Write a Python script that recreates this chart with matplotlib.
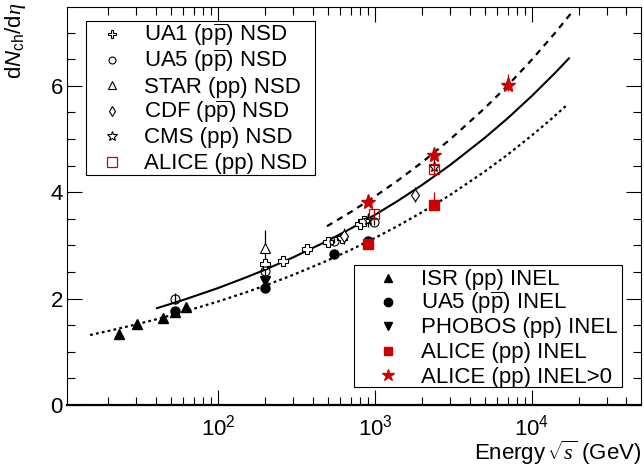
import numpy as np
import matplotlib
matplotlib.use('Agg')
import matplotlib.pyplot as plt
from matplotlib.patches import Rectangle
from matplotlib.ticker import LogLocator, MultipleLocator, NullFormatter, LogFormatterMathtext

plt.rcParams['font.family'] = ['Liberation Sans', 'DejaVu Sans']
plt.rcParams['mathtext.fontset'] = 'custom'
plt.rcParams['mathtext.rm'] = 'Liberation Sans'
plt.rcParams['mathtext.sf'] = 'Liberation Sans:italic'
plt.rcParams['mathtext.it'] = 'Liberation Serif:italic'
plt.rcParams['lines.scale_dashes'] = False

RED = '#cc0000'

# ---------------- data (sqrt(s) in GeV, dNch/deta) ----------------
isr_inel_e = [23.5, 30.6, 44.7, 52.8, 62.8]
isr_inel_y = [1.34, 1.53, 1.64, 1.74, 1.85]

ua5_inel_e = [53, 200, 546, 900]
ua5_inel_y = [1.77, 2.20, 2.84, 3.08]

phobos_inel_e = [200]
phobos_inel_y = [2.33]

alice_inel_e = [900, 2360]
alice_inel_y = [3.03, 3.76]
alice_inel_elo = [0.05, 0.10]
alice_inel_ehi = [0.08, 0.24]

alice_gt0_e = [900, 2360, 7000]
alice_gt0_y = [3.81, 4.70, 6.02]
alice_gt0_elo = [0.05, 0.10, 0.12]
alice_gt0_ehi = [0.08, 0.12, 0.21]

ua1_nsd_e = [200, 260, 370, 500, 620, 800, 850]
ua1_nsd_y = [2.65, 2.70, 2.94, 3.06, 3.13, 3.41, 3.45]
ua1_nsd_err = [0.05, 0.05, 0.05, 0.05, 0.05, 0.05, 0.05]

ua5_nsd_e = [53, 200, 546, 990]
ua5_nsd_y = [2.00, 2.51, 3.09, 3.43]
ua5_nsd_err = [0.10, 0.06, 0.05, 0.05]

star_nsd_e = [200]
star_nsd_y = [2.96]
star_nsd_err = [0.33]

cdf_nsd_e = [630, 1800]
cdf_nsd_y = [3.18, 3.95]
cdf_nsd_err = [0.15, 0.14]

cms_nsd_e = [900, 2360]
cms_nsd_y = [3.48, 4.47]
cms_nsd_err = [0.13, 0.15]

alice_nsd_e = [990, 2360]
alice_nsd_y = [3.59, 4.43]
alice_nsd_err = [0.10, 0.10]

# fit curves
nsd_fit_e = [40.8, 60, 100, 150, 200, 300, 500, 700, 1000, 1400, 2000, 3000, 5000, 7000, 10000, 14000, 17200]
nsd_fit_y = [1.82, 1.974, 2.198, 2.396, 2.545, 2.773, 3.088, 3.315, 3.575, 3.838, 4.138, 4.507,
             5.020, 5.389, 5.811, 6.238, 6.515]
inel_fit_e = [15.3, 20, 30, 40, 60, 100, 150, 200, 300, 500, 700, 1000, 1400, 2000, 3000, 5000,
              7000, 10000, 13000, 16700]
inel_fit_y = [1.316, 1.391, 1.514, 1.607, 1.749, 1.945, 2.116, 2.246, 2.444, 2.718, 2.915, 3.140,
              3.367, 3.626, 3.945, 4.388, 4.706, 5.068, 5.352, 5.638]
gt0_fit_e = [494, 700, 1000, 1400, 2000, 3000, 5000, 7000, 10000, 14000, 17700]
gt0_fit_y = [3.36, 3.626, 3.921, 4.221, 4.564, 4.988, 5.578, 6.004, 6.493, 6.989, 7.358]

nsd_labels = [r'UA1 (p$\overline{\mathrm{p}}$) NSD', r'UA5 (p$\overline{\mathrm{p}}$) NSD',
              'STAR (pp) NSD', r'CDF (p$\overline{\mathrm{p}}$) NSD', 'CMS (pp) NSD', 'ALICE (pp) NSD']
inel_labels = ['ISR (pp) INEL', r'UA5 (p$\overline{\mathrm{p}}$) INEL', 'PHOBOS (pp) INEL',
               'ALICE (pp) INEL', 'ALICE (pp) INEL>0']

# ---------------- figure ----------------
W, H = 644, 467
fig = plt.figure(figsize=(W / 100, H / 100), dpi=100)
AX_L, AX_R, AX_T, AX_B = 67, 641, 7, 405
ax = fig.add_axes([AX_L / W, 1 - AX_B / H, (AX_R - AX_L) / W, (AX_B - AX_T) / H])
ax.set_xscale('log')
ax.set_xlim(10.9, 49500)
ax.set_ylim(0, 7.48)

FS = 16

# curves
ax.plot(nsd_fit_e, nsd_fit_y, color='black', lw=1.5, zorder=2)
l2, = ax.plot(inel_fit_e, inel_fit_y, color='black', lw=1.6, zorder=2)
l2.set_dashes([2.0, 2.3])
l3, = ax.plot(gt0_fit_e, gt0_fit_y, color='black', lw=1.6, zorder=2)
l3.set_dashes([4.5, 4.0])

eb = dict(elinewidth=0.9, capsize=0, linestyle='none', zorder=3)
# NSD (open)
ax.errorbar(ua1_nsd_e, ua1_nsd_y, yerr=ua1_nsd_err, fmt='P', ms=7, mfc='white', mec='black', mew=0.8, ecolor='black', **eb)
ax.errorbar(ua5_nsd_e, ua5_nsd_y, yerr=ua5_nsd_err, fmt='o', ms=6.5, mfc='none', mec='black', mew=0.8, ecolor='black', **eb)
ax.errorbar(star_nsd_e, star_nsd_y, yerr=star_nsd_err, fmt='^', ms=7, mfc='white', mec='black', mew=0.8, ecolor='black', **eb)
ax.errorbar(cdf_nsd_e, cdf_nsd_y, yerr=cdf_nsd_err, fmt='d', ms=6, mfc='white', mec='black', mew=0.8, ecolor='black', **eb)
ax.errorbar(cms_nsd_e, cms_nsd_y, yerr=cms_nsd_err, fmt='*', ms=8, mfc='none', mec='black', mew=0.8, ecolor='black', **eb)
ax.errorbar(alice_nsd_e, alice_nsd_y, yerr=alice_nsd_err, fmt='s', ms=7.5, mfc='none', mec=RED, mew=0.9, ecolor=RED, **eb)
# INEL (filled)
ax.errorbar(isr_inel_e, isr_inel_y, fmt='^', ms=6.5, color='black', **eb)
ax.errorbar(ua5_inel_e, ua5_inel_y, fmt='o', ms=6.5, color='black', **eb)
ax.errorbar(phobos_inel_e, phobos_inel_y, fmt='v', ms=6.5, color='black', **eb)
ax.errorbar(alice_inel_e, alice_inel_y, yerr=[alice_inel_elo, alice_inel_ehi], fmt='s', ms=6.5, color=RED, **eb)
ax.errorbar(alice_gt0_e, alice_gt0_y, yerr=[alice_gt0_elo, alice_gt0_ehi], fmt='*', ms=11, color=RED, **eb)

# ticks
ax.xaxis.set_major_locator(LogLocator(base=10, numticks=10))
ax.xaxis.set_minor_locator(LogLocator(base=10, subs=np.arange(2, 10), numticks=20))
ax.xaxis.set_major_formatter(LogFormatterMathtext())
ax.xaxis.set_minor_formatter(NullFormatter())
ax.yaxis.set_major_locator(MultipleLocator(2))
ax.yaxis.set_minor_locator(MultipleLocator(0.5))
ax.tick_params(which='both', direction='in', top=True, right=True, width=0.8, labelsize=FS)
ax.tick_params(which='major', length=11)
ax.tick_params(which='minor', length=5.5)
ax.tick_params(axis='x', which='major', pad=7)
ax.tick_params(axis='y', which='major', pad=3)
for s in ax.spines.values():
    s.set_linewidth(0.8)
ax.spines['bottom'].set_linewidth(1.6)

ax.set_xlabel(r'Energy$\,\sqrt{\mathit{s}}$ (GeV)', fontsize=FS, loc='right')
ax.xaxis.set_label_coords(1.0, -0.085)
ax.set_ylabel(r'd$\mathsf{N}_{\mathrm{ch}}$/d$\eta$', fontsize=FS, loc='top')
ax.yaxis.set_label_coords(-0.068, 1.01)

# ---------------- legends ----------------
def pa(px, py):
    return ((px - AX_L) / (AX_R - AX_L), (AX_B - py) / (AX_B - AX_T))

def draw_box(x0, y0, x1, y1):
    a0 = pa(x0, y1)
    a1 = pa(x1, y0)
    ax.add_patch(Rectangle(a0, a1[0] - a0[0], a1[1] - a0[1], transform=ax.transAxes,
                           facecolor='white', edgecolor='black', lw=0.8, zorder=5, clip_on=False))

draw_box(86, 21, 315, 175)
nsd_styles = [dict(marker='P', ms=5.5, mfc='white', mec='black', mew=0.8),
              dict(marker='o', ms=5, mfc='none', mec='black', mew=0.8),
              dict(marker='^', ms=5.5, mfc='white', mec='black', mew=0.8),
              dict(marker='d', ms=5, mfc='white', mec='black', mew=0.8),
              dict(marker='*', ms=7, mfc='none', mec='black', mew=0.8),
              dict(marker='s', ms=6.5, mfc='none', mec=RED, mew=0.9)]
rows1 = [34, 59.5, 85, 110.5, 136, 161.5]
for lab, st, ry in zip(nsd_labels, nsd_styles, rows1):
    mx, my = pa(112, ry)
    ax.plot([mx], [my], transform=ax.transAxes, linestyle='none', clip_on=False, zorder=6, **st)
    tx, ty = pa(144, ry + 7.5)
    ax.text(tx, ty, lab, transform=ax.transAxes, fontsize=FS, ha='left', va='baseline', zorder=6)

draw_box(354, 265, 622, 387)
inel_styles = [dict(marker='^', ms=6, color='black'),
               dict(marker='o', ms=6, color='black'),
               dict(marker='v', ms=6, color='black'),
               dict(marker='s', ms=6, color=RED),
               dict(marker='*', ms=9, color=RED)]
rows2 = [278, 302, 326, 350.5, 375]
for lab, st, ry in zip(inel_labels, inel_styles, rows2):
    mx, my = pa(388, ry)
    ax.plot([mx], [my], transform=ax.transAxes, linestyle='none', clip_on=False, zorder=6, **st)
    tx, ty = pa(421, ry + 7.5)
    ax.text(tx, ty, lab, transform=ax.transAxes, fontsize=FS, ha='left', va='baseline', zorder=6)

fig.savefig('out.png', dpi=100)
